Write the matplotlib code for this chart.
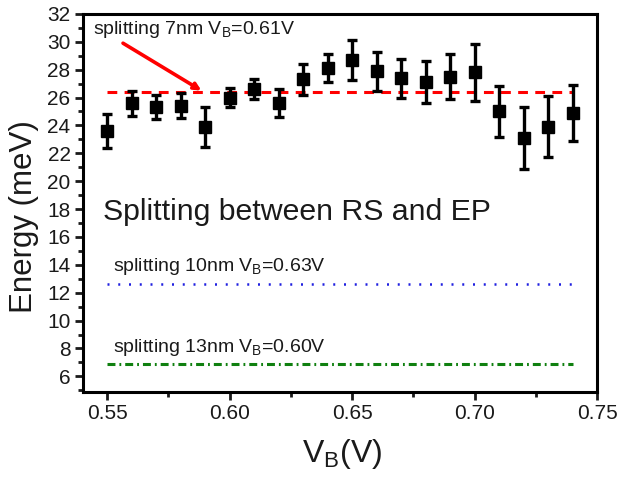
import numpy as np
import matplotlib
matplotlib.use("Agg")
import matplotlib.pyplot as plt
from matplotlib.ticker import MultipleLocator

plt.rcParams['font.family'] = ['Liberation Sans', 'DejaVu Sans']

# splitting vs barrier voltage (7nm sample)
vb = [0.55, 0.56, 0.57, 0.58, 0.59, 0.60, 0.61, 0.62, 0.63, 0.64,
      0.65, 0.66, 0.67, 0.68, 0.69, 0.70, 0.71, 0.72, 0.73, 0.74]
energy = [23.6, 25.6, 25.3, 25.4, 23.9, 26.0, 26.6, 25.6, 27.3, 28.1,
          28.7, 27.9, 27.4, 27.1, 27.5, 27.8, 25.0, 23.1, 23.9, 24.9]
err = [1.25, 0.9, 0.85, 0.9, 1.45, 0.7, 0.7, 1.0, 1.1, 1.0,
       1.45, 1.4, 1.4, 1.5, 1.6, 2.05, 1.8, 2.2, 2.2, 2.0]

# reference splittings
line_x = [0.55, 0.74]
split_7nm = 26.4
split_10nm = 12.6
split_13nm = 6.85

fig, ax = plt.subplots(figsize=(6.2, 4.8), dpi=100)
fig.subplots_adjust(left=0.134, right=0.963, top=0.971, bottom=0.184)

ax.errorbar(vb, energy, yerr=err, fmt='s', color='black', ms=8.5,
            elinewidth=2.4, capsize=3.8, capthick=2.4, zorder=3)

ax.plot(line_x, [split_7nm] * 2, color='red', lw=2.2, ls=(0, (3.2, 2.4)))
ax.plot(line_x, [split_10nm] * 2, color='#2020e0', lw=1.8, ls=(0, (0.8, 3.5)))
ax.plot(line_x, [split_13nm] * 2, color='#108010', lw=2.2,
        ls=(0, (2.6, 1.3, 0.6, 1.3)))

ax.annotate('', xy=(0.5885, 26.5), xytext=(0.5565, 29.9),
            arrowprops=dict(arrowstyle='-|>', color='red', lw=2.6,
                            mutation_scale=10, shrinkA=0, shrinkB=0))

txt_kw = dict(va='center', ha='left', color='#1a1a1a')
ax.text(0.5443, 30.85, 'splitting 7nm V$_\\mathregular{B}$=0.61V',
        fontsize=14, **txt_kw)
ax.text(0.5484, 17.8, 'Splitting between RS and EP', fontsize=21.8, **txt_kw)
ax.text(0.5525, 13.85, 'splitting 10nm V$_\\mathregular{B}$=0.63V',
        fontsize=14, **txt_kw)
ax.text(0.5525, 8.1, 'splitting 13nm V$_\\mathregular{B}$=0.60V',
        fontsize=14, **txt_kw)

ax.set_xlim(0.5402, 0.75)
ax.set_ylim(4.9, 32)
ax.xaxis.set_major_locator(MultipleLocator(0.05))
ax.xaxis.set_minor_locator(MultipleLocator(0.025))
ax.yaxis.set_major_locator(MultipleLocator(2))
ax.yaxis.set_minor_locator(MultipleLocator(1))
ax.set_xticks([0.55, 0.60, 0.65, 0.70, 0.75])
ax.set_xticklabels(['0.55', '0.60', '0.65', '0.70', '0.75'])

ax.tick_params(which='both', direction='out', top=False, right=False,
               width=2, labelsize=15, colors='#1a1a1a')
ax.tick_params(which='major', length=6, pad=3)
ax.tick_params(which='minor', length=3.5)
for sp in ax.spines.values():
    sp.set_linewidth(2.2)

ax.set_xlabel('V$_\\mathregular{B}$(V)', fontsize=23, color='#1a1a1a')
ax.set_ylabel('Energy (meV)', fontsize=22.5, color='#1a1a1a')
ax.xaxis.set_label_coords(0.504, -0.12)
ax.yaxis.set_label_coords(-0.086, 0.463)

fig.savefig('out.png')
